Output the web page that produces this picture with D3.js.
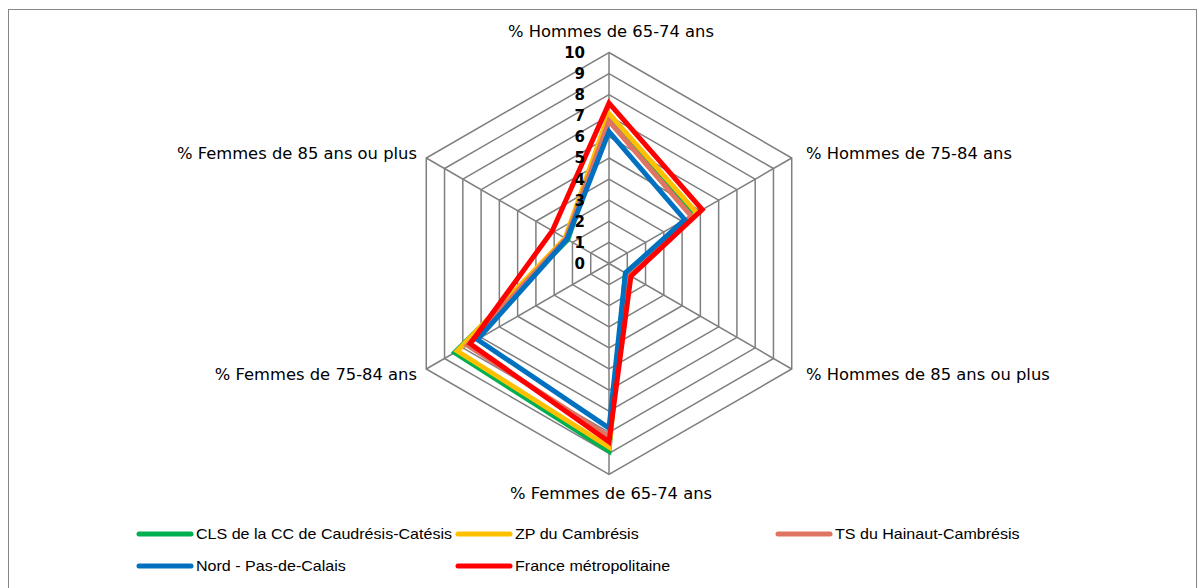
<!DOCTYPE html>
<html>
<head>
<meta charset="utf-8">
<script src="https://cdn.jsdelivr.net/npm/d3@7"></script>
<style>
  html, body { margin: 0; padding: 0; background: #fff; }
  svg { display: block; }
</style>
</head>
<body>
<svg id="chart" width="1199" height="588"></svg>
<script>
const categories = [
  "% Hommes de 65-74 ans",
  "% Hommes de 75-84 ans",
  "% Hommes de 85 ans ou plus",
  "% Femmes de 65-74 ans",
  "% Femmes de 75-84 ans",
  "% Femmes de 85 ans ou plus"
];
const seriesNames = [
  "CLS de la CC de Caudrésis-Catésis",
  "ZP du Cambrésis",
  "TS du Hainaut-Cambrésis",
  "Nord - Pas-de-Calais",
  "France métropolitaine"
];
const clsValues    = [6.95, 4.65, 0.9, 8.9, 8.45, 2.25];
const zpValues     = [7.1, 4.8, 1.0, 8.7, 8.3, 2.4];
const tsValues     = [6.75, 4.5, 0.95, 8.2, 7.75, 2.35];
const npdcValues   = [6.25, 4.15, 0.9, 7.8, 7.2, 2.3];
const franceValues = [7.6, 5.1, 1.2, 8.45, 7.6, 3.1];
const tickValues = [0, 1, 2, 3, 4, 5, 6, 7, 8, 9, 10];
const seriesColors = ["#00b050", "#ffc000", "#e07462", "#0070c0", "#ff0000"];

const seriesValues = [clsValues, zpValues, tsValues, npdcValues, franceValues];

const svg = d3.select("#chart");
const cx = 609, cy = 263.5, R = 211;

// stretch text horizontally to match the reference's wider rendering
function stretch(sel, factor) {
  sel.each(function () {
    const w = this.getComputedTextLength();
    d3.select(this).attr("textLength", w * factor).attr("lengthAdjust", "spacingAndGlyphs");
  });
}

// outer border
svg.append("rect")
  .attr("x", 8.5).attr("y", 9.5)
  .attr("width", 1188).attr("height", 600)
  .attr("fill", "none").attr("stroke", "#868686").attr("stroke-width", 1);

const g = svg.append("g").attr("transform", `translate(${cx},${cy})`);

const r = d3.scaleLinear().domain([0, 10]).range([0, R]);
const angle = d3.scalePoint().domain(d3.range(categories.length)).range([0, 2 * Math.PI * (categories.length - 1) / categories.length]);

const gridColor = "#7f7f7f";
const ringLine = d3.lineRadial().angle((d, i) => angle(i)).radius(d => r(d)).curve(d3.curveLinearClosed);
tickValues.filter(t => t > 0).forEach(t => {
  g.append("path")
    .attr("d", ringLine(categories.map(() => t)))
    .attr("fill", "none").attr("stroke", gridColor).attr("stroke-width", 1.5);
});
categories.forEach((c, i) => {
  const a = angle(i);
  g.append("line")
    .attr("x1", 0).attr("y1", 0)
    .attr("x2", r(10) * Math.sin(a)).attr("y2", -r(10) * Math.cos(a))
    .attr("stroke", gridColor).attr("stroke-width", 1.5);
});

// series
const line = d3.lineRadial().angle((d, i) => angle(i)).radius(d => r(d)).curve(d3.curveLinearClosed);
seriesValues.forEach((vals, k) => {
  g.append("path")
    .attr("d", line(vals))
    .attr("fill", "none")
    .attr("stroke", seriesColors[k])
    .attr("stroke-width", 5)
    .attr("stroke-linejoin", "miter")
    .attr("stroke-miterlimit", 10);
});

// tick labels
tickValues.forEach(t => {
  g.append("text")
    .attr("x", -24).attr("y", -r(t))
    .attr("dy", "0.36em")
    .attr("text-anchor", "end")
    .attr("font-family", "DejaVu Sans, Verdana, sans-serif")
    .attr("font-weight", "bold")
    .attr("font-size", 15)
    .attr("fill", "#000")
    .text(t);
});

// category labels
const labelPos = [
  { x: 611, y: 32, anchor: "middle" },
  { x: 806, y: 154, anchor: "start" },
  { x: 806, y: 375, anchor: "start" },
  { x: 611, y: 494, anchor: "middle" },
  { x: 417, y: 375, anchor: "end" },
  { x: 417, y: 154, anchor: "end" }
];
const catLabels = svg.selectAll("text.cat").data(categories).join("text")
  .attr("class", "cat")
  .attr("x", (d, i) => labelPos[i].x).attr("y", (d, i) => labelPos[i].y)
  .attr("dy", "0.36em")
  .attr("text-anchor", (d, i) => labelPos[i].anchor)
  .attr("font-family", "DejaVu Sans, Verdana, sans-serif")
  .attr("font-size", 15)
  .attr("fill", "#000")
  .text(d => d);
stretch(catLabels, 1.09);

// legend
const legendPos = [
  { x: 138, y: 534 }, { x: 457, y: 534 }, { x: 777, y: 534 },
  { x: 138, y: 566 }, { x: 457, y: 566 }
];
seriesNames.forEach((name, k) => {
  const p = legendPos[k];
  svg.append("line")
    .attr("x1", p.x + 1).attr("x2", p.x + 53)
    .attr("y1", p.y).attr("y2", p.y)
    .attr("stroke", seriesColors[k]).attr("stroke-width", 5)
    .attr("stroke-linecap", "round");
});
const legTexts = svg.selectAll("text.leg").data(seriesNames).join("text")
  .attr("class", "leg")
  .attr("x", (d, k) => legendPos[k].x + 58).attr("y", (d, k) => legendPos[k].y)
  .attr("dy", "0.36em")
  .attr("font-family", "Liberation Sans, Arial, sans-serif")
  .attr("font-size", 15)
  .attr("fill", "#000")
  .text(d => d);
stretch(legTexts, 1.07);
</script>
</body>
</html>
